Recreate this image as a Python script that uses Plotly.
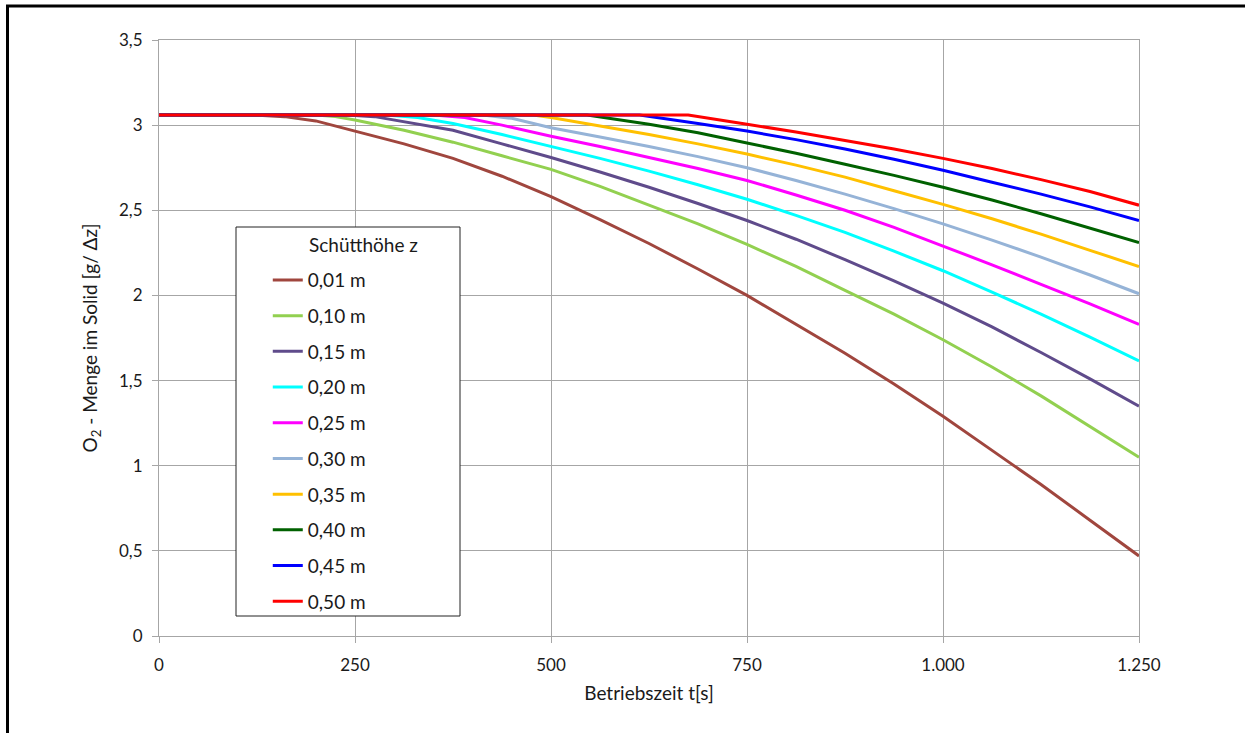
import plotly.graph_objects as go

labels = ["0,01 m", "0,10 m", "0,15 m", "0,20 m", "0,25 m",
          "0,30 m", "0,35 m", "0,40 m", "0,45 m", "0,50 m"]
colors = ["#A0463E", "#92D050", "#5F4B8B", "#00FFFF", "#FF00FF",
          "#95B3D7", "#FFC000", "#006100", "#0000FF", "#FF0000"]

t_001 = [0, 120, 160, 200, 250, 312.5, 375, 437.5, 500, 562.5, 625, 687.5, 750, 812.5, 875, 937.5, 1000, 1062.5, 1125, 1187.5, 1250]
y_001 = [3.06, 3.06, 3.05, 3.025, 2.965, 2.89, 2.805, 2.70, 2.58, 2.445, 2.305, 2.155, 2.00, 1.83, 1.66, 1.48, 1.29, 1.09, 0.89, 0.68, 0.47]
t_010 = [0, 200, 225, 250, 312.5, 375, 437.5, 500, 562.5, 625, 687.5, 750, 812.5, 875, 937.5, 1000, 1062.5, 1125, 1187.5, 1250]
y_010 = [3.06, 3.06, 3.05, 3.03, 2.97, 2.90, 2.82, 2.74, 2.64, 2.53, 2.42, 2.30, 2.17, 2.03, 1.89, 1.74, 1.58, 1.41, 1.23, 1.05]
t_015 = [0, 240, 275, 312.5, 375, 437.5, 500, 562.5, 625, 687.5, 750, 812.5, 875, 937.5, 1000, 1062.5, 1125, 1187.5, 1250]
y_015 = [3.06, 3.06, 3.05, 3.02, 2.97, 2.89, 2.81, 2.725, 2.635, 2.54, 2.44, 2.33, 2.21, 2.085, 1.955, 1.815, 1.665, 1.51, 1.35]
t_020 = [0, 290, 330, 375, 437.5, 500, 562.5, 625, 687.5, 750, 812.5, 875, 937.5, 1000, 1062.5, 1125, 1187.5, 1250]
y_020 = [3.06, 3.06, 3.045, 3.01, 2.945, 2.875, 2.805, 2.73, 2.65, 2.565, 2.47, 2.37, 2.26, 2.145, 2.02, 1.89, 1.755, 1.615]
t_025 = [0, 350, 390, 437.5, 500, 562.5, 625, 687.5, 750, 812.5, 875, 937.5, 1000, 1062.5, 1125, 1187.5, 1250]
y_025 = [3.06, 3.06, 3.045, 3.00, 2.935, 2.875, 2.81, 2.745, 2.675, 2.59, 2.50, 2.40, 2.29, 2.18, 2.065, 1.95, 1.83]
t_030 = [0, 413, 450, 500, 562.5, 625, 687.5, 750, 812.5, 875, 937.5, 1000, 1062.5, 1125, 1187.5, 1250]
y_030 = [3.06, 3.06, 3.04, 2.985, 2.93, 2.875, 2.815, 2.75, 2.675, 2.595, 2.51, 2.42, 2.325, 2.225, 2.12, 2.01]
t_035 = [0, 477, 500, 562.5, 625, 687.5, 750, 812.5, 875, 937.5, 1000, 1062.5, 1125, 1187.5, 1250]
y_035 = [3.06, 3.06, 3.045, 2.995, 2.945, 2.89, 2.83, 2.765, 2.695, 2.615, 2.535, 2.45, 2.36, 2.265, 2.17]
t_040 = [0, 546, 625, 687.5, 750, 812.5, 875, 937.5, 1000, 1062.5, 1125, 1187.5, 1250]
y_040 = [3.06, 3.06, 3.005, 2.955, 2.895, 2.835, 2.77, 2.705, 2.635, 2.56, 2.48, 2.395, 2.31]
t_045 = [0, 613, 687.5, 750, 812.5, 875, 937.5, 1000, 1062.5, 1125, 1187.5, 1250]
y_045 = [3.06, 3.06, 3.01, 2.965, 2.915, 2.86, 2.80, 2.735, 2.665, 2.595, 2.52, 2.44]
t_050 = [0, 675, 750, 812.5, 875, 937.5, 1000, 1062.5, 1125, 1187.5, 1250]
y_050 = [3.06, 3.06, 3.005, 2.96, 2.91, 2.86, 2.805, 2.745, 2.68, 2.61, 2.53]

series_t = [t_001, t_010, t_015, t_020, t_025, t_030, t_035, t_040, t_045, t_050]
series_y = [y_001, y_010, y_015, y_020, y_025, y_030, y_035, y_040, y_045, y_050]

x_ticks = [0, 250, 500, 750, 1000, 1250]
y_ticks = [0, 0.5, 1, 1.5, 2, 2.5, 3, 3.5]

FONT = "Lato"
TXT = "#1a1a1a"
GRID = "#A6A6A6"

fig = go.Figure()
for lab, col, tx, ty in zip(labels, colors, series_t, series_y):
    fig.add_trace(go.Scatter(
        x=tx, y=ty, mode="lines", name=lab, legendgroup=lab,
        line=dict(color=col, width=3),
    ))

fig.update_layout(
    width=1245, height=733,
    margin=dict(l=159, r=106, t=40, b=97),
    paper_bgcolor="white", plot_bgcolor="white",
    separators=",.",
    font=dict(family=FONT, size=17, color=TXT),
    showlegend=True,
    legend=dict(
        x=0.111, y=0.629, xanchor="left", yanchor="top",
        bgcolor="rgba(0,0,0,0)", borderwidth=0,
        font=dict(family=FONT, size=19, color=TXT),
        traceorder="grouped", tracegroupgap=8,
    ),
    xaxis=dict(
        range=[0, 1250], tickvals=x_ticks, separatethousands=True,
        showgrid=True, gridcolor=GRID, gridwidth=1,
        showline=True, linecolor=GRID, linewidth=1, mirror=True,
        ticks="outside", ticklen=6, tickcolor=GRID,
        ticklabelstandoff=8, zeroline=False,
        tickfont=dict(family=FONT, size=17, color=TXT),
        title=dict(text="Betriebszeit t[s]", font=dict(family=FONT, size=19, color=TXT), standoff=12),
    ),
    yaxis=dict(
        range=[0, 3.5], tickvals=y_ticks,
        showgrid=True, gridcolor=GRID, gridwidth=1,
        showline=True, linecolor=GRID, linewidth=1, mirror=True,
        ticks="outside", ticklen=6, tickcolor=GRID,
        ticklabelstandoff=6, zeroline=False,
        tickfont=dict(family=FONT, size=17, color=TXT),
        title=dict(text="O<sub>2</sub> - Menge im Solid [g/ \u0394z]", font=dict(family=FONT, size=19, color=TXT), standoff=16),
    ),
    shapes=[
        dict(type="rect", xref="paper", yref="paper",
             x0=(236 - 159) / 980, x1=(460 - 159) / 980,
             y0=(636 - 616) / 596, y1=(636 - 227) / 596,
             line=dict(color="#222222", width=1), fillcolor="white", layer="above"),
        dict(type="rect", xref="paper", yref="paper",
             x0=(7.5 - 159) / 980, x1=1.2,
             y0=-0.3, y1=(636 - 6) / 596,
             line=dict(color="black", width=3), fillcolor="rgba(0,0,0,0)"),
    ],
    annotations=[
        dict(text="Schütthöhe z", xref="paper", yref="paper",
             x=(307 - 159) / 980, y=(636 - 245) / 596, xanchor="left", yanchor="middle",
             showarrow=False, font=dict(family=FONT, size=19, color=TXT)),
    ],
)

fig.write_html("out.html")
